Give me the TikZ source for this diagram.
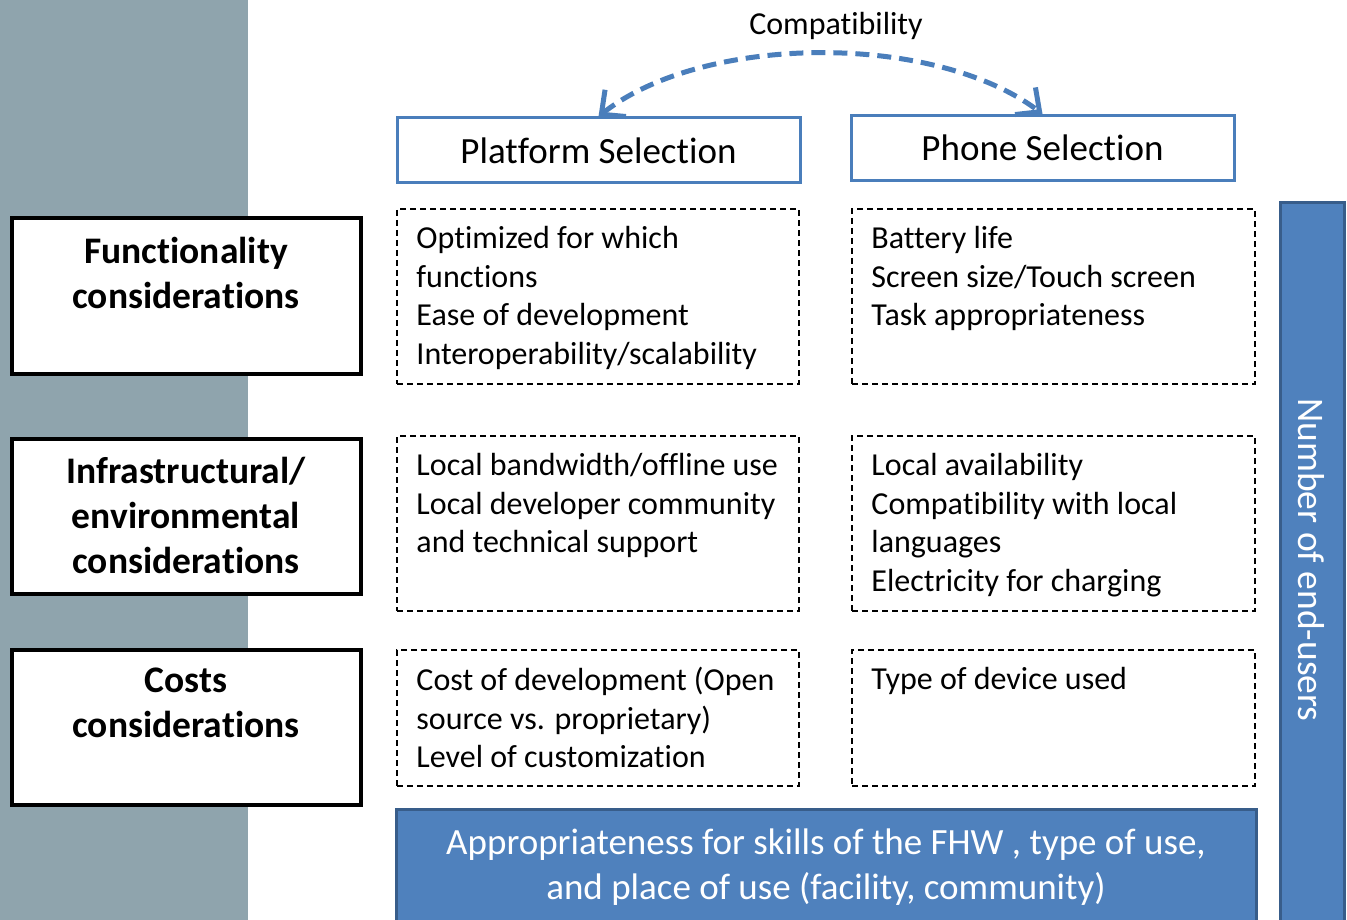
\documentclass[tikz,border=0pt]{standalone}
\usepackage{fontspec}
\setmainfont{Carlito}[Ligatures=NoCommon]
\usetikzlibrary{positioning,arrows.meta}
\definecolor{PanelGray}{RGB}{143,164,173}
\definecolor{HeadBlue}{RGB}{74,126,187}
\definecolor{BarBlue}{RGB}{79,129,189}
\definecolor{BarEdge}{RGB}{56,93,138}

\begin{document}
\begin{tikzpicture}[x=1pt, y=-1pt,
            factorbox/.style={draw, line width=4pt, fill=white, minimum width=349pt, minimum height=155pt, inner sep=0pt},
            factortext/.style={anchor=north, align=center, inner sep=0pt, font=\fontsize{37.5}{45}\selectfont\bfseries},
            headbox/.style={draw=HeadBlue, line width=3pt, fill=white, minimum height=65pt, inner sep=0pt, font=\fontsize{37}{44}\selectfont},
            listbox/.style={draw, dashed, dash pattern=on 6pt off 4pt, line width=1.5pt, minimum width=402pt, inner sep=0pt},
            listtext/.style={anchor=north west, align=left, inner sep=0pt, font=\fontsize{32}{38.5}\selectfont},
            bluebar/.style={draw=BarEdge, line width=3pt, fill=BarBlue, text=white, inner sep=0pt},
            compat/.style={{Straight Barb[length=18pt,width=34pt]}-{Straight Barb[length=18pt,width=34pt]}, line width=5pt, HeadBlue, dash pattern=on 14pt off 8pt}
        ]
            \useasboundingbox (0,0) rectangle (1347,920);
            \fill[PanelGray] (0,0) rectangle (248,920);

            % left column: kinds of considerations
            \node (func) [factorbox] at (186,296) {};
            \node (infra) [factorbox] at (186,516) {};
            \node (cost) [factorbox] at (186,727.5) {};
            \node (functext) [factortext] at ([yshift=-20pt]func.north) {Functionality\\considerations};
            \node (infratext) [factortext] at ([yshift=-20pt]infra.north) {Infrastructural/\\environmental\\considerations};
            \node (costtext) [factortext] at ([yshift=-20pt]cost.north) {Costs\\considerations};

            % selection headers
            \node (platform) [headbox, minimum width=403pt] at (598.5,150.5) {Platform Selection};
            \node (phone) [headbox, minimum width=383pt] at (1042.5,148) {Phone Selection};
            \node (compatlabel) [font=\fontsize{32}{38}\selectfont, inner sep=0pt] at (836,26) {Compatibility};
            \draw [compat] (platform.north) .. controls (705,33) and (935,33) .. (phone.north);

            % dashed lists
            \node (pfunc) [listbox, minimum height=175pt] at (598,296.5) {};
            \node (hfunc) [listbox, minimum height=175pt, minimum width=403pt] at (1053.5,296.5) {};
            \node (pinfra) [listbox, minimum height=175pt] at (598,523.5) {};
            \node (hinfra) [listbox, minimum height=175pt, minimum width=403pt] at (1053.5,523.5) {};
            \node (pcost) [listbox, minimum height=136pt] at (598,718) {};
            \node (hcost) [listbox, minimum height=136pt, minimum width=403pt] at (1053.5,718) {};

            \node (pfunctext) [listtext] at ([xshift=20pt,yshift=-18pt]pfunc.north west) {Optimized for which\\functions\\Ease of development\\Interoperability/scalability};
            \node (hfunctext) [listtext] at ([xshift=20pt,yshift=-18pt]hfunc.north west) {Battery life\\Screen size/Touch screen\\Task appropriateness};
            \node (pinfratext) [listtext] at ([xshift=20pt,yshift=-18pt]pinfra.north west) {Local bandwidth/offline use\\Local developer community\\and technical support};
            \node (hinfratext) [listtext] at ([xshift=20pt,yshift=-18pt]hinfra.north west) {Local availability\\Compatibility with local\\languages\\Electricity for charging};
            \node (pcosttext) [listtext] at ([xshift=20pt,yshift=-18pt]pcost.north west) {Cost of development (Open\\source vs. proprietary)\\Level of customization};
            \node (hcosttext) [listtext] at ([xshift=20pt,yshift=-18pt]hcost.north west) {Type of device used};

            % blue bars
            \node (users) [bluebar, minimum width=64pt, minimum height=740pt] at (1312.5,573) {};
            \node (userstext) [rotate=-90, text=white, inner sep=0pt, font=\fontsize{37.5}{45}\selectfont] at (1311,560) {Number of end-users};
            \node (skills) [bluebar, minimum width=860pt, minimum height=120pt] at (826,869) {};
            \node (skillstext) [text=white, align=center, inner sep=0pt, font=\fontsize{37}{45}\selectfont] at (826,867) {Appropriateness for skills of the FHW , type of use,\\and place of use (facility, community)};
        \end{tikzpicture}
\end{document}
